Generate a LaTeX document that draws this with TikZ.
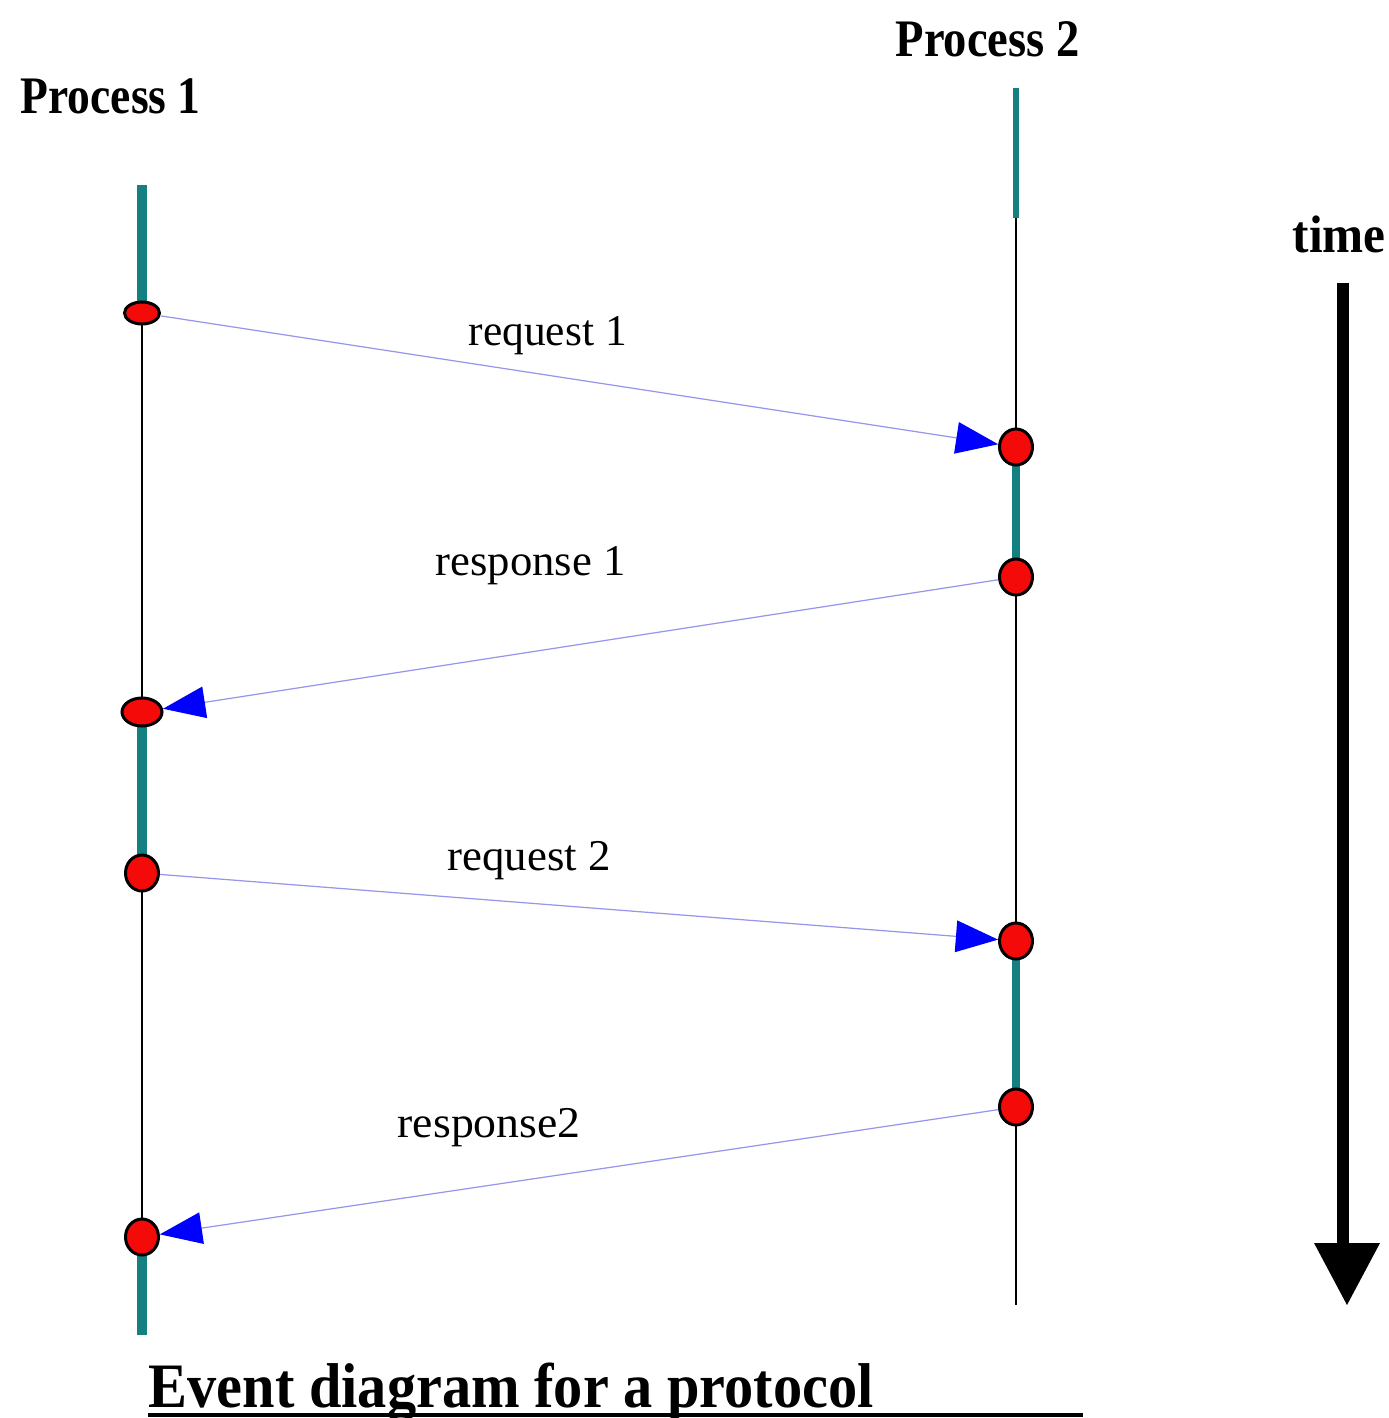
\documentclass[tikz,border=0pt]{standalone}
\usepackage{fontspec}
\setmainfont{Liberation Serif}
\usepackage{graphicx}
\usetikzlibrary{arrows.meta,shapes.geometric}
\newlength\pxu
\setlength\pxu{0.01cm}
\definecolor{lifeteal}{RGB}{20,128,128}
\definecolor{msgline}{RGB}{150,150,235}
\definecolor{dotred}{RGB}{245,10,10}
\pgfdeclarelayer{background}
\pgfsetlayers{background,main}
\tikzset{
  dot/.style={ellipse, draw=black, line width=0.85pt, fill=dotred, inner sep=0pt},
  active/.style={draw=lifeteal, line width=3pt},
  idle/.style={draw=black, line width=0.45pt},
  msg/.style={draw=msgline, line width=0.35pt, -{Triangle[length=12pt, width=9pt, color=blue]}},
  lbl/.style={anchor=base west, inner sep=0pt},
}
\begin{document}
\begin{tikzpicture}[x=0.01cm, y=-0.01cm]
\useasboundingbox (0,0) rectangle (1389,1418);

% titles
\node[lbl] (p1) at (20,113) {\fontsize{15}{18}\selectfont\bfseries\resizebox{180\pxu}{\height}{Process 1}};
\node[lbl] (p2) at (895,56) {\fontsize{15}{18}\selectfont\bfseries\resizebox{184\pxu}{\height}{Process 2}};
\node[lbl] (tm) at (1292,252) {\fontsize{15}{18}\selectfont\bfseries\resizebox{93\pxu}{\height}{time}};

% event dots
\node[dot, minimum width=35\pxu, minimum height=22\pxu] (a1) at (142,313) {};
\node[dot, minimum width=40\pxu, minimum height=28\pxu] (a2) at (142,712) {};
\node[dot, minimum width=33\pxu, minimum height=36\pxu] (a3) at (142,873) {};
\node[dot, minimum width=33\pxu, minimum height=36\pxu] (a4) at (142,1237) {};
\node[dot, minimum width=33\pxu, minimum height=36\pxu] (b1) at (1016,447) {};
\node[dot, minimum width=33\pxu, minimum height=36\pxu] (b2) at (1016,577) {};
\node[dot, minimum width=33\pxu, minimum height=36\pxu] (b3) at (1016,941) {};
\node[dot, minimum width=33\pxu, minimum height=36\pxu] (b4) at (1016,1107) {};

% lifeline ends
\coordinate (atop) at (142,185);
\coordinate (abot) at (142,1335);
\coordinate (btop) at (1016,88);
\coordinate (bmid) at (1016,218);
\coordinate (bbot) at (1016,1305);

\begin{pgfonlayer}{background}
  \draw[active] (atop) -- (a1.center);
  \draw[idle] (a1.center) -- (a2.center);
  \draw[active] (a2.center) -- (a3.center);
  \draw[idle] (a3.center) -- (a4.center);
  \draw[active] (a4.center) -- (abot);
  \draw[draw=lifeteal, line width=1.8pt] (btop) -- (bmid);
  \draw[idle] (bmid) -- (b1.center);
  \draw[active, line width=2.3pt] (b1.center) -- (b2.center);
  \draw[idle] (b2.center) -- (b3.center);
  \draw[active, line width=2.3pt] (b3.center) -- (b4.center);
  \draw[idle] (b4.center) -- (bbot);
\end{pgfonlayer}

% messages
\draw[msg] (a1) -- (b1);
\draw[msg] (b2) -- (a2);
\draw[msg] (a3) -- (b3);
\draw[msg] (b4) -- (a4);

% message labels
\node[lbl] (l1) at (468,345) {\fontsize{12.5}{15}\selectfont\resizebox{158\pxu}{\height}{request 1}};
\node[lbl] (l2) at (435,575) {\fontsize{12.5}{15}\selectfont\resizebox{190\pxu}{\height}{response 1}};
\node[lbl] (l3) at (447,870) {\fontsize{12.5}{15}\selectfont\resizebox{163\pxu}{\height}{request 2}};
\node[lbl] (l4) at (397,1137) {\fontsize{12.5}{15}\selectfont\resizebox{183\pxu}{\height}{response2}};

% time arrow
\coordinate (ttop) at (1343,283);
\coordinate (tbase) at (1343,1245);
\coordinate (ttip) at (1347,1305);
\draw[line width=3.4pt, draw=black] (ttop) -- (tbase);
\fill[black] (1314,1243) -- (1380,1243) -- (ttip) -- cycle;

% caption
\node[lbl] (cap) at (148,1407) {\fontsize{18}{21}\selectfont\bfseries\resizebox{725\pxu}{\height}{Event diagram for a protocol}};
\coordinate (ul1) at (148,1415);
\coordinate (ul2) at (1083,1415);
\draw[line width=0.9pt] (ul1) -- (ul2);
\end{tikzpicture}
\end{document}
